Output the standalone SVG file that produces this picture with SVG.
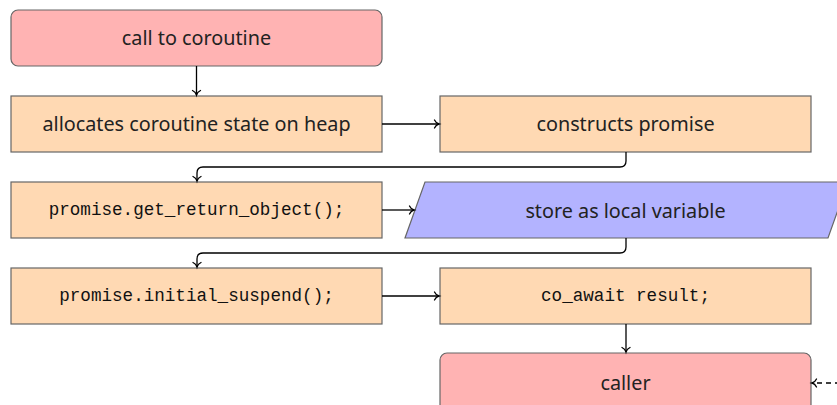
<svg xmlns="http://www.w3.org/2000/svg" width="837" height="405" viewBox="0 0 837 405">
<defs>
<marker id="arr" markerUnits="userSpaceOnUse" markerWidth="12" markerHeight="12" viewBox="-6 -6 12 12" refX="0" refY="0" orient="auto">
<path d="M-4.5,-4 C-3.5,-1.8 -1.5,-0.4 0,0 C-1.5,0.4 -3.5,1.8 -4.5,4" fill="none" stroke="#000" stroke-width="1.3" stroke-linecap="round"/>
</marker>
<style>
.red{fill:#ffb3b3;stroke:#666;stroke-width:1.2}
.org{fill:#ffd9b3;stroke:#666;stroke-width:1.2}
.blu{fill:#b3b3ff;stroke:#666;stroke-width:1.2}
.t{font-family:"Noto Sans","Open Sans",sans-serif;font-size:19.8px;fill:#222;text-anchor:middle;dominant-baseline:central}
.m{font-family:"Liberation Mono","DejaVu Sans Mono",monospace;font-size:17.6px;fill:#111;text-anchor:middle;dominant-baseline:central}
.c{fill:none;stroke:#000;stroke-width:1.3;marker-end:url(#arr)}
.d{stroke-dasharray:5,4}
</style>
</defs>
<g id="n1"><rect class="red" x="11" y="10" width="371" height="56" rx="7"/><text class="t" x="196.5" y="37">call to coroutine</text></g>
<g id="n2"><rect class="org" x="11" y="96" width="371" height="56"/><text class="t" x="196.5" y="123">allocates coroutine state on heap</text></g>
<g id="n3"><rect class="org" x="440" y="96" width="371" height="56"/><text class="t" x="625.5" y="123">constructs promise</text></g>
<g id="n4"><rect class="org" x="11" y="182" width="371" height="56"/><text class="m" x="196.5" y="210">promise.get_return_object();</text></g>
<g id="n5"><polygon class="blu" points="425,182 848,182 828,238 405,238"/><text class="t" x="625.5" y="210">store as local variable</text></g>
<g id="n6"><rect class="org" x="11" y="268" width="371" height="56"/><text class="m" x="196.5" y="296">promise.initial_suspend();</text></g>
<g id="n7"><rect class="org" x="440" y="268" width="371" height="56"/><text class="m" x="625.5" y="296">co_await result;</text></g>
<g id="n8"><rect class="red" x="440" y="353" width="371" height="60" rx="7"/><text class="t" x="625.5" y="382">caller</text></g>
<g id="connectors">
<path class="c" d="M196.5,66 V95"/>
<path class="c" d="M382,124 H439"/>
<path class="c" d="M626,152 V161 Q626,167 620,167 H203 Q197,167 197,173 V181"/>
<path class="c" d="M382,210 H414"/>
<path class="c" d="M626,238 V247 Q626,253 620,253 H203 Q197,253 197,259 V267"/>
<path class="c" d="M382,296 H439"/>
<path class="c" d="M626,324 V352"/>
<path class="c d" d="M840,383 H812"/>
</g>
</svg>
